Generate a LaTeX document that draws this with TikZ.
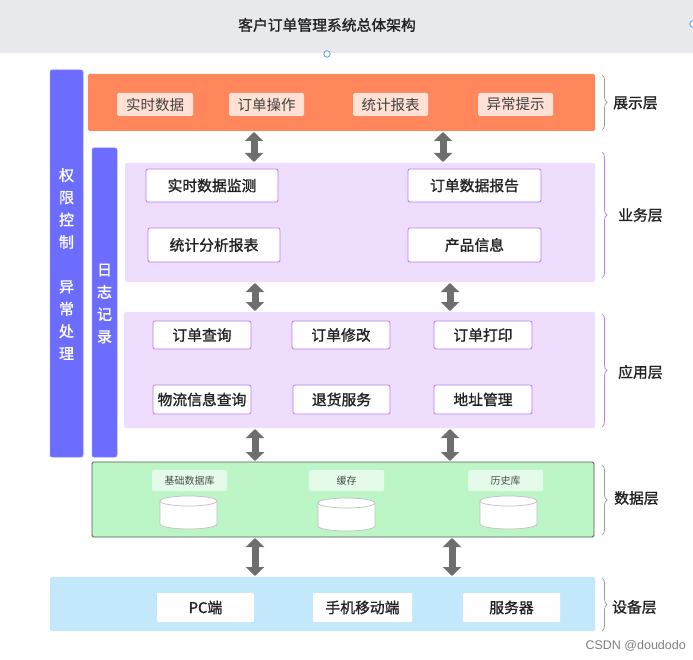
\documentclass[tikz,border=0pt]{standalone}
\usepackage{fontspec}
\setmainfont{Noto Sans CJK SC}
\newfontfamily\medfont[FakeBold=1.3]{Noto Sans CJK SC}
\newfontfamily\wmfont{Liberation Sans}
\usetikzlibrary{arrows.meta,decorations.pathreplacing}
\definecolor{titlebg}{HTML}{E8E9ED}
\definecolor{orangel}{HTML}{FF875B}
\definecolor{pinkitem}{HTML}{FFE1D6}
\definecolor{barblue}{HTML}{6C6CFF}
\definecolor{lav}{HTML}{EEDDFC}
\definecolor{boxborder}{HTML}{B57CF0}
\definecolor{greenl}{HTML}{BDF6C6}
\definecolor{greenitem}{HTML}{E3FBE8}
\definecolor{bluel}{HTML}{C4E8FB}
\definecolor{arrowgrey}{HTML}{6E6E6E}
\definecolor{bracegrey}{HTML}{9A9A9A}
\definecolor{textdark}{HTML}{222222}
\definecolor{dotblue}{HTML}{4A90E2}
\newcommand\dbcyl[3]{%
  \filldraw[cylstyle] (#1-28.5,#2) -- (#1-28.5,#3) arc[start angle=180,end angle=0,x radius=28.5,y radius=5] -- (#1+28.5,#2) arc[start angle=0,end angle=-180,x radius=28.5,y radius=5] -- cycle;
  \draw[cylstyle] (#1-28.5,#2) arc[start angle=180,end angle=0,x radius=28.5,y radius=5];}
\begin{document}
\begin{tikzpicture}[x=1pt,y=-1pt,
  box/.style={anchor=north west, inner sep=0pt, outer sep=0pt},
  layerbox/.style={box, rounded corners=1.5pt},
  item/.style={box, fill=white, draw=boxborder, line width=0.8pt, rounded corners=2pt,
     font=\medfont\fontsize{14.8}{16}\selectfont, text=textdark},
  showitem/.style={box, fill=pinkitem, rounded corners=1.5pt,
     font=\fontsize{14.5}{16}\selectfont, text=black!75},
  dataitem/.style={box, fill=greenitem, rounded corners=1.5pt,
     font=\fontsize{10}{12}\selectfont, text=black!70},
  devitem/.style={box, fill=white, rounded corners=1pt,
     font=\medfont\fontsize{14.8}{16}\selectfont, text=textdark},
  sidebar/.style={box, fill=barblue, draw=barblue!80!white, line width=0.5pt, rounded corners=2pt},
  bartext/.style={text=white, align=center, font=\medfont\fontsize{15}{22.3}\selectfont},
  dbl/.style={draw=arrowgrey, line width=7pt,
     {Triangle[width=18pt,length=9pt]}-{Triangle[width=18pt,length=9pt]},
     shorten <=1pt, shorten >=1pt},
  bracestyle/.style={decorate, decoration={brace, amplitude=5pt}, line width=0.7pt},
  layerlabel/.style={anchor=west, inner sep=0pt, font=\medfont\fontsize{14.8}{16}\selectfont, text=textdark},
  cylstyle/.style={fill=white, draw=black!25, line width=0.7pt}
]
\useasboundingbox[fill=white] (0,0) rectangle (693,660);

% title
\node[box, fill=titlebg, minimum width=693, minimum height=53] (titlebar) at (0,0) {};
\node[font=\medfont\fontsize{14.8}{16}\selectfont, text=textdark] (title) at (327,25) {客户订单管理系统总体架构};
\node[circle, draw=dotblue, fill=white, minimum size=6.5pt, inner sep=0pt, line width=0.7pt] (dot) at (327,54) {};
\node[circle, draw=dotblue, fill=white, minimum size=6.5pt, inner sep=0pt, line width=0.7pt] (dot2) at (693,24) {};

% side bars
\node[sidebar, minimum width=33, minimum height=387] (perm) at (50,70) {};
\node[bartext] (permtext) at (66.5,264) {权\\限\\控\\制\\\\异\\常\\处\\理};
\node[sidebar, minimum width=25, minimum height=309] (log) at (92,148) {};
\node[bartext] (logtext) at (104.5,303.5) {日\\志\\记\\录};

% presentation layer
\node[layerbox, fill=orangel, minimum width=507, minimum height=57] (show) at (88,74) {};
\node[showitem, minimum width=76, minimum height=23] (s1) at (117,93) {实时数据};
\node[showitem, minimum width=75, minimum height=23] (s2) at (229,93) {订单操作};
\node[showitem, minimum width=75, minimum height=23] (s3) at (353,93) {统计报表};
\node[showitem, minimum width=75, minimum height=23] (s4) at (478,93) {异常提示};

% business layer
\node[layerbox, fill=lav, minimum width=470, minimum height=119] (biz) at (125,163) {};
\node[item, minimum width=132, minimum height=33] (b1) at (146,169) {实时数据监测};
\node[item, minimum width=133, minimum height=33] (b2) at (408,169) {订单数据报告};
\node[item, minimum width=132, minimum height=34] (b3) at (148,228) {统计分析报表};
\node[item, minimum width=133, minimum height=34] (b4) at (408,228) {产品信息};

% application layer
\node[layerbox, fill=lav, minimum width=471, minimum height=116] (app) at (124,312) {};
\node[item, minimum width=98, minimum height=28] (p1) at (153,321) {订单查询};
\node[item, minimum width=98, minimum height=28] (p2) at (292,321) {订单修改};
\node[item, minimum width=98, minimum height=28] (p3) at (434,321) {订单打印};
\node[item, minimum width=98, minimum height=29] (p4) at (153,385) {物流信息查询};
\node[item, minimum width=97, minimum height=29] (p5) at (293,385) {退货服务};
\node[item, minimum width=98, minimum height=29] (p6) at (434,385) {地址管理};

% data layer
\node[layerbox, fill=greenl, draw=black!65, line width=0.8pt, minimum width=502, minimum height=75] (data) at (92,462) {};
\node[dataitem, minimum width=75, minimum height=21] (d1) at (152,470) {基础数据库};
\node[dataitem, minimum width=75, minimum height=21] (d2) at (309,470) {缓存};
\node[dataitem, minimum width=75, minimum height=21] (d3) at (468,470) {历史库};
\dbcyl{188.5}{501}{524}
\dbcyl{346.5}{503}{526}
\dbcyl{508.5}{501}{524}

% device layer
\node[layerbox, fill=bluel, minimum width=545, minimum height=54] (dev) at (50,577) {};
\node[devitem, minimum width=97, minimum height=29] (v1) at (157,593) {PC端};
\node[devitem, minimum width=99, minimum height=29] (v2) at (313,593) {手机移动端};
\node[devitem, minimum width=97, minimum height=29] (v3) at (463,593) {服务器};

% arrows
\coordinate (ax1) at (254,0);
\coordinate (ax2) at (443,0);
\coordinate (ax3) at (255,0);
\coordinate (ax4) at (450,0);
\coordinate (ax5) at (452,0);
\draw[dbl] (show.south -| ax1) -- (biz.north -| ax1);
\draw[dbl] (show.south -| ax2) -- (biz.north -| ax2);
\draw[dbl] (biz.south -| ax3) -- (app.north -| ax3);
\draw[dbl] (biz.south -| ax4) -- (app.north -| ax4);
\draw[dbl] (app.south -| ax3) -- (data.north -| ax3);
\draw[dbl] (app.south -| ax4) -- (data.north -| ax4);
\draw[dbl] (data.south -| ax3) -- (dev.north -| ax3);
\draw[dbl] (data.south -| ax5) -- (dev.north -| ax5);

% braces and labels
\coordinate (bx) at (602,0);
\draw[bracestyle, draw=bracegrey] ([yshift=-1pt]show.north -| bx) -- ([yshift=1pt]show.south -| bx);
\node[layerlabel] (lshow) at (613,103) {展示层};
\draw[bracestyle, draw=boxborder] (602,152) -- (602,278);
\node[layerlabel] (lbiz) at (618,215) {业务层};
\draw[bracestyle, draw=boxborder] (602,314) -- (602,427);
\node[layerlabel] (lapp) at (618,372) {应用层};
\draw[bracestyle, draw=bracegrey] (602,465) -- (602,535);
\node[layerlabel] (ldata) at (614,498) {数据层};
\draw[bracestyle, draw=bracegrey] (602,578) -- (602,631);
\node[layerlabel] (ldev) at (612,607) {设备层};

% watermark
\node[anchor=east, inner sep=0pt, font=\wmfont\fontsize{12.5}{14}\selectfont, text=black!50] (wm) at (686,646) {CSDN @doudodo};
\end{tikzpicture}
\end{document}
